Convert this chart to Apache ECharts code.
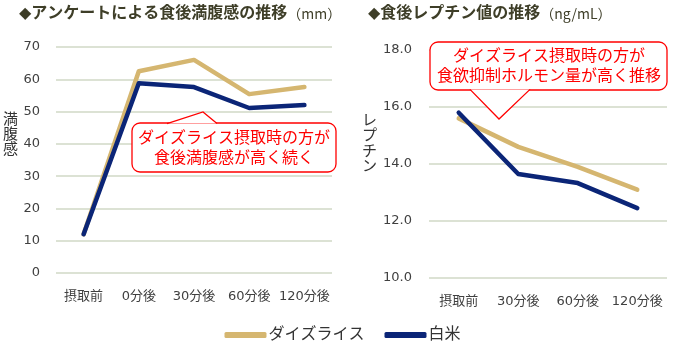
<!DOCTYPE html>
<html><head><meta charset="utf-8">
<script src="https://cdn.jsdelivr.net/npm/echarts@6/dist/echarts.min.js"></script>
<style>html,body{margin:0;padding:0;background:#fff}#c{width:685px;height:355px}</style>
</head><body><div id="c"></div>
<script>
const catsLeft = ['摂取前','0分後','30分後','60分後','120分後'];
const daizuLeft = [12, 62.5, 66, 55.4, 57.6];
const riceLeft = [12, 58.8, 57.6, 51.1, 52];
const catsRight = ['摂取前','30分後','60分後','120分後'];
const daizuRight = [15.6, 14.6, 13.9, 13.1];
const riceRight = [15.8, 13.65, 13.33, 12.45];
const seriesNames = ['ダイズライス','白米'];

const FONT = '"DejaVu Sans", "Noto Sans CJK JP", sans-serif';
const CJK = '"Noto Sans CJK JP", sans-serif';
const C_DAIZU = '#D5B670';
const C_RICE = '#0B2577';
const GRID_C = '#DCE2D4';
const LBL_C = '#404040';
const TITLE_C = '#3e3e28';
const RED = '#FF0000';

const chart = echarts.init(document.getElementById('c'));
function lineSeries(name, data, color, idx){
  return {name, type:'line', data, xAxisIndex:idx, yAxisIndex:idx, showSymbol:false, symbol:'none',
    lineStyle:{color, width:4.5, cap:'round', join:'round'}, itemStyle:{color}, z: name==='白米'?3:2, animation:false};
}
const axisLblStyle = {color:LBL_C, fontSize:13, fontFamily:FONT};
chart.setOption({
  animation:false,
  textStyle:{fontFamily:FONT},
  grid:[
    {left:56, right:353, top:47, bottom:82},
    {left:429, right:18, top:50, bottom:77}
  ],
  xAxis:[
    {type:'category', gridIndex:0, data:catsLeft, axisLine:{show:false}, axisTick:{show:false}, axisLabel:Object.assign({margin:17, interval:0}, axisLblStyle)},
    {type:'category', gridIndex:1, data:catsRight, axisLine:{show:false}, axisTick:{show:false}, axisLabel:Object.assign({margin:17, interval:0}, axisLblStyle)}
  ],
  yAxis:[
    {type:'value', gridIndex:0, min:0, max:70, interval:10, axisLabel:Object.assign({margin:16}, axisLblStyle), splitLine:{lineStyle:{color:GRID_C, width:2}}},
    {type:'value', gridIndex:1, min:10, max:18, interval:2, axisLabel:Object.assign({margin:17, formatter:v=>v.toFixed(1)}, axisLblStyle), splitLine:{lineStyle:{color:GRID_C, width:2}}}
  ],
  legend:{data:seriesNames, left:'center', top:322, icon:'roundRect', itemWidth:42, itemHeight:6, itemGap:20,
    textStyle:{fontSize:16, color:'#333', fontFamily:FONT, padding:[0,0,0,-3]}},
  series:[
    lineSeries(seriesNames[0], daizuLeft, C_DAIZU, 0),
    lineSeries(seriesNames[1], riceLeft, C_RICE, 0),
    lineSeries(seriesNames[0], daizuRight, C_DAIZU, 1),
    lineSeries(seriesNames[1], riceRight, C_RICE, 1)
  ],
  graphic:[
    {type:'text', left:19, top:6, style:{rich:{b:{fontSize:16, fontWeight:'bold', fill:TITLE_C, fontFamily:FONT}, n:{fontSize:14, fill:TITLE_C, fontFamily:CJK}}, text:'{b|◆アンケートによる食後満腹感の推移}{n|（mm）}'}},
    {type:'text', left:368, top:6, style:{rich:{b:{fontSize:16, fontWeight:'bold', fill:TITLE_C, fontFamily:FONT}, n:{fontSize:14, fill:TITLE_C, fontFamily:CJK}}, text:'{b|◆食後レプチン値の推移}{n|（ng/mL）}'}},
    {type:'text', left:3, top:113, style:{text:'満\n腹\n感', fontSize:15, lineHeight:15, fill:'#333', fontFamily:FONT}},
    {type:'text', left:362, top:113, style:{text:'レ\nプ\nチ\nン', fontSize:15, lineHeight:15.5, fill:'#333', fontFamily:FONT}},
    // left callout
    {type:'rect', shape:{x:132, y:123, width:204, height:49, r:8}, style:{fill:'#fff', stroke:RED, lineWidth:1.3}, z:10},
    {type:'polyline', shape:{points:[[167,123.6],[203,112],[217,123.6]]}, style:{fill:'#fff', stroke:RED, lineWidth:1.3}, z:11},
    {type:'text', x:234, y:149, style:{text:'ダイズライス摂取時の方が\n食後満腹感が高く続く', fontSize:16, lineHeight:20, fill:RED, align:'center', verticalAlign:'middle', fontFamily:FONT}, z:12},
    // right callout
    {type:'rect', shape:{x:430, y:42, width:237, height:48, r:8}, style:{fill:'#fff', stroke:RED, lineWidth:1.3}, z:10},
    {type:'polyline', shape:{points:[[470,89.4],[499,119],[530,89.4]]}, style:{fill:'#fff', stroke:RED, lineWidth:1.3}, z:11},
    {type:'text', x:549, y:67, style:{text:'ダイズライス摂取時の方が\n食欲抑制ホルモン量が高く推移', fontSize:16, lineHeight:20, fill:RED, align:'center', verticalAlign:'middle', fontFamily:FONT}, z:12}
  ]
});
</script></body></html>
